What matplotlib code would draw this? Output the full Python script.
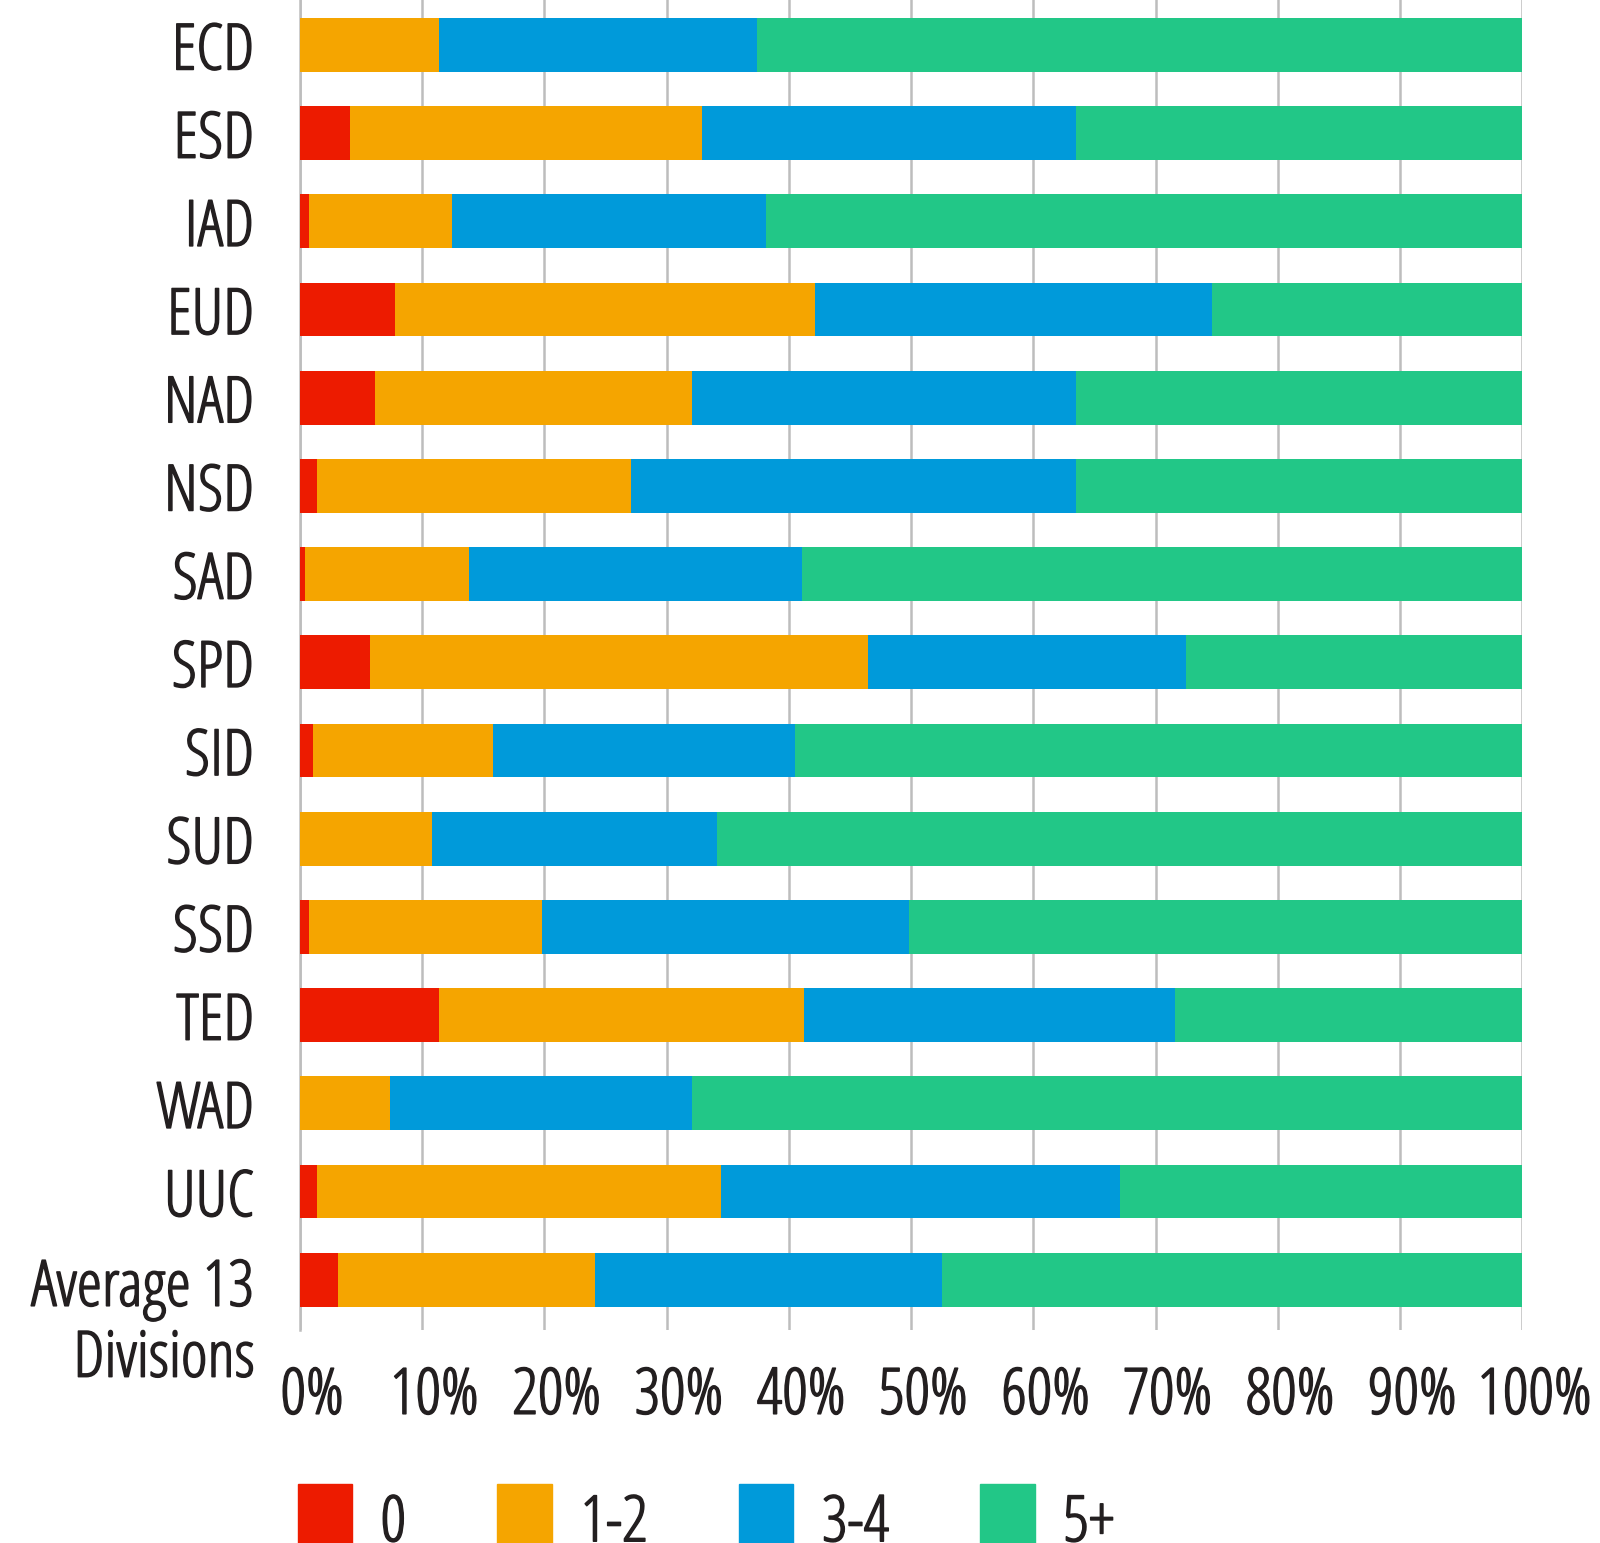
import numpy as np
import matplotlib
matplotlib.use('Agg')
import matplotlib.pyplot as plt
from matplotlib.patches import Patch
import matplotlib.patheffects as pe
import matplotlib.transforms as mtransforms

# reference font is a narrow sans; Open Sans Cond Light is the closest installed,
# a thin stroke below brings it up to regular weight
FAMILY = 'Open Sans'
plt.rcParams['font.family'] = [FAMILY, 'DejaVu Sans']
plt.rcParams['font.stretch'] = 'condensed'
FS = 46
TEXT_COLOR = '#231f20'
thicken = [pe.withStroke(linewidth=1.1, foreground=TEXT_COLOR)]

divisions = ['ECD', 'ESD', 'IAD', 'EUD', 'NAD', 'NSD', 'SAD', 'SPD', 'SID', 'SUD',
             'SSD', 'TED', 'WAD', 'UUC', 'Average 13\nDivisions']
share_0 = [0.0, 4.1, 0.75, 7.8, 6.1, 1.4, 0.4, 5.75, 1.1, 0.0, 0.75, 11.4, 0.0, 1.4, 3.1]
share_12 = [11.4, 28.8, 11.65, 34.3, 26.0, 25.7, 13.4, 40.75, 14.7, 10.8, 19.05, 29.8, 7.4, 33.0, 21.0]
share_34 = [26.0, 30.6, 25.7, 32.5, 31.4, 36.4, 27.3, 26.0, 24.7, 23.3, 30.0, 30.4, 24.7, 32.7, 28.4]
share_5 = [100 - a - b - c for a, b, c in zip(share_0, share_12, share_34)]

labels = ['0', '1-2', '3-4', '5+']
colors = ['#ED1B00', '#F5A500', '#009ADA', '#22C787']
series = [share_0, share_12, share_34, share_5]

fig = plt.figure(figsize=(16, 15.43), dpi=100)
ax = fig.add_axes([0.1875, 0.138, 0.764, 0.862])

y = np.arange(len(divisions))
left = np.zeros(len(divisions))
for vals, col, lab in zip(series, colors, labels):
    ax.barh(y, vals, left=left, height=0.61, color=col, label=lab, zorder=3)
    left += np.array(vals)

ax.set_xlim(0, 100)
ax.set_ylim(14.57, -0.51)
ax.set_xticks(np.arange(0, 101, 10))
ax.set_xticklabels(['{}%'.format(v) for v in range(0, 101, 10)])
ax.set_yticks(y)
ax.set_yticklabels(divisions)
ax.grid(axis='x', color='#bdbdbd', linewidth=1.8, zorder=0)
for s in ['top', 'right', 'bottom']:
    ax.spines[s].set_visible(False)
ax.spines['left'].set_color('#bdbdbd')
ax.spines['left'].set_linewidth(1.8)
ax.tick_params(axis='both', length=0, labelsize=FS, colors=TEXT_COLOR)
ax.tick_params(axis='y', pad=33)
ax.tick_params(axis='x', pad=25)

# x labels in the reference sit a little right of their gridlines
offset = mtransforms.ScaledTranslation(0.12, 0, fig.dpi_scale_trans)
for t in ax.get_xticklabels():
    t.set_transform(t.get_transform() + offset)
    t.set_path_effects(thicken)
for t in ax.get_yticklabels():
    t.set_linespacing(1.12)
    t.set_path_effects(thicken)
# two-line label: first line sits on the bar
last = ax.get_yticklabels()[-1]
last.set_transform(last.get_transform() + mtransforms.ScaledTranslation(0, -0.34, fig.dpi_scale_trans))

handles = [Patch(color=c, label=l) for c, l in zip(colors, labels)]
leg = fig.legend(handles=handles, loc='center left', bbox_to_anchor=(0.150, 0.0145), ncol=4,
                 frameon=False, fontsize=FS, handlelength=0.85, handleheight=1.35,
                 handletextpad=0.45, columnspacing=1.43)
for t in leg.get_texts():
    t.set_color(TEXT_COLOR)
    t.set_path_effects(thicken)

fig.savefig('out.png', dpi=100)
